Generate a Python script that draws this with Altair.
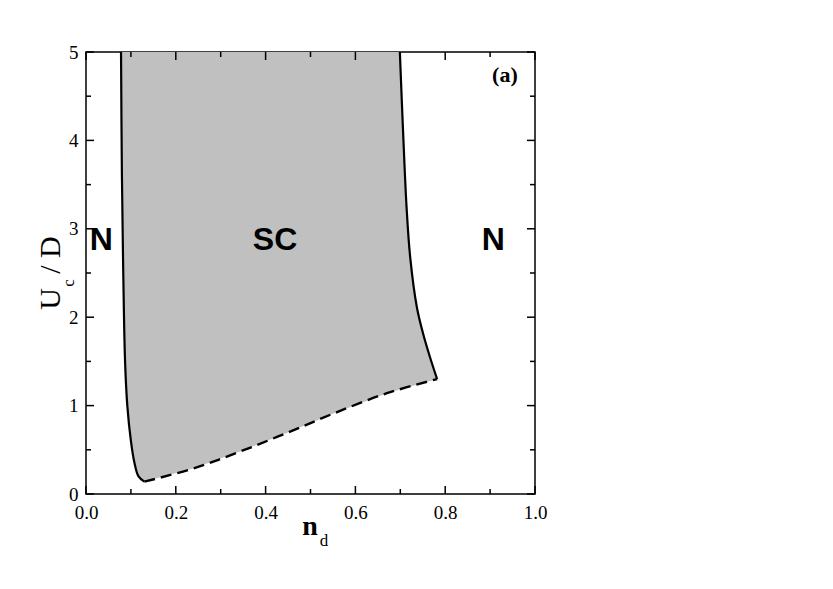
import altair as alt
import pandas as pd

# Phase boundary data
left_x = [0.078, 0.080, 0.083, 0.087, 0.092, 0.100, 0.108, 0.117, 0.130]
left_u = [5.0, 3.6, 2.5, 1.5, 1.0, 0.6, 0.35, 0.2, 0.14]
dash_x = [0.130, 0.240, 0.343, 0.447, 0.551, 0.670, 0.782]
dash_u = [0.14, 0.29, 0.48, 0.69, 0.91, 1.14, 1.30]
right_x = [0.782, 0.766, 0.751, 0.737, 0.722, 0.714, 0.707, 0.699]
right_u = [1.30, 1.55, 1.81, 2.11, 2.68, 3.24, 4.0, 5.0]

x_major = [0.0, 0.2, 0.4, 0.6, 0.8, 1.0]
x_minor = [0.1, 0.3, 0.5, 0.7, 0.9]
y_major = [0, 1, 2, 3, 4, 5]
y_minor = [0.5, 1.5, 2.5, 3.5, 4.5]

region_labels = ["N", "SC", "N"]
region_x = [0.034, 0.421, 0.907]
region_u = [2.87, 2.87, 2.87]

W, H = 449, 442
SERIF = "Liberation Serif"
SANS = "Liberation Sans"

xs = alt.Scale(domain=[0, 1], nice=False, zero=False)
ys = alt.Scale(domain=[0, 5], nice=False, zero=False)


def seq(xv, uv):
    return pd.DataFrame({"x": xv, "u": uv, "o": list(range(len(xv)))})


poly = seq(left_x + dash_x[1:] + right_x[1:], left_u + dash_u[1:] + right_u[1:])

xaxis = alt.Axis(values=x_major, format=".1f", ticks=False, domain=False, labelFlush=False,
                 grid=False, labelFont=SERIF, labelFontSize=19,
                 labelColor="black", labelPadding=9, title=None)
yaxis = alt.Axis(values=y_major, format="d", ticks=False, domain=False, labelFlush=False,
                 grid=False, labelFont=SERIF, labelFontSize=19,
                 labelColor="black", labelPadding=8, title=None)
X = alt.X("x:Q", scale=xs, axis=xaxis)
Y = alt.Y("u:Q", scale=ys, axis=yaxis)

fill = alt.Chart(poly).mark_line(fill="#c0c0c0", strokeOpacity=0, interpolate="linear").encode(
    x=X, y=Y, order="o:Q")

left = alt.Chart(seq(left_x, left_u)).mark_line(color="black", strokeWidth=2.2,
                                                 interpolate="catmull-rom").encode(
    x=X, y=Y, order="o:Q")
right = alt.Chart(seq(right_x, right_u)).mark_line(color="black", strokeWidth=2.2,
                                                   interpolate="catmull-rom").encode(
    x=X, y=Y, order="o:Q")
dash = alt.Chart(seq(dash_x, dash_u)).mark_line(color="black", strokeWidth=2.4, strokeDash=[11, 6],
                                                interpolate="catmull-rom").encode(
    x=X, y=Y, order="o:Q")

# inside ticks on all four sides
xM = pd.DataFrame({"x": x_major})
xm = pd.DataFrame({"x": x_minor})
yM = pd.DataFrame({"u": y_major})
ym = pd.DataFrame({"u": y_minor})
tk = dict(color="black", strokeWidth=1.5)
ticks = [
    alt.Chart(xM).mark_rule(**tk).encode(x=X, y=alt.value(H), y2=alt.value(H - 8)),
    alt.Chart(xm).mark_rule(**tk).encode(x=X, y=alt.value(H), y2=alt.value(H - 5)),
    alt.Chart(xM).mark_rule(**tk).encode(x=X, y=alt.value(0), y2=alt.value(8)),
    alt.Chart(xm).mark_rule(**tk).encode(x=X, y=alt.value(0), y2=alt.value(5)),
    alt.Chart(yM).mark_rule(**tk).encode(y=Y, x=alt.value(0), x2=alt.value(8)),
    alt.Chart(ym).mark_rule(**tk).encode(y=Y, x=alt.value(0), x2=alt.value(5)),
    alt.Chart(yM).mark_rule(**tk).encode(y=Y, x=alt.value(W), x2=alt.value(W - 8)),
    alt.Chart(ym).mark_rule(**tk).encode(y=Y, x=alt.value(W), x2=alt.value(W - 5)),
]

regions = alt.Chart(pd.DataFrame({"x": region_x, "u": region_u, "t": region_labels})).mark_text(
    font=SANS, fontWeight="bold", fontSize=32, color="black", baseline="middle", align="center"
).encode(x=X, y=Y, text="t:N")

panel = alt.Chart(pd.DataFrame({"x": [0.933], "u": [4.74], "t": ["(a)"]})).mark_text(
    font=SERIF, fontWeight="bold", fontSize=22, color="black", baseline="middle", align="center"
).encode(x=X, y=Y, text="t:N")

one = pd.DataFrame({"a": [0]})
ytitle = [
    alt.Chart(one).mark_text(text="U", font=SERIF, fontSize=30, angle=270, align="center",
                             baseline="middle", color="black").encode(x=alt.value(-35), y=alt.value(247)),
    alt.Chart(one).mark_text(text="c", font=SERIF, fontSize=17, angle=270, align="center",
                             baseline="middle", color="black").encode(x=alt.value(-17), y=alt.value(231)),
    alt.Chart(one).mark_text(text="/ D", font=SERIF, fontSize=30, angle=270, align="center",
                             baseline="middle", color="black").encode(x=alt.value(-35), y=alt.value(203)),
]
xtitle = [
    alt.Chart(one).mark_text(text="n", font=SERIF, fontWeight="bold", fontSize=28, align="center",
                             baseline="alphabetic", color="black").encode(x=alt.value(224), y=alt.value(483)),
    alt.Chart(one).mark_text(text="d", font=SERIF, fontSize=17, align="center",
                             baseline="alphabetic", color="black").encode(x=alt.value(238), y=alt.value(494)),
]

chart = alt.layer(fill, left, right, dash, *ticks, regions, panel, *ytitle, *xtitle).properties(
    width=W, height=H,
    autosize=alt.AutoSizeParams(type="none"),
    padding={"left": 78, "top": 44, "right": 30, "bottom": 70},
    background="white",
).configure_view(stroke="black", strokeWidth=1.5)

chart.save("out.html", embed_options={"renderer": "svg", "actions": False})
